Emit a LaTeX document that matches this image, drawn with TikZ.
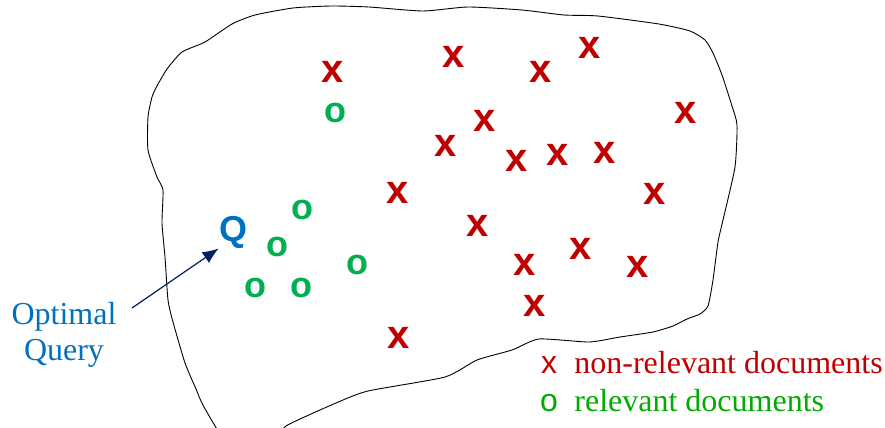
\documentclass[tikz,border=0pt]{standalone}
\usepackage{fontspec}
\setmainfont{Liberation Serif}
\setsansfont{Liberation Sans}
\usetikzlibrary{arrows.meta}
\definecolor{xred}{RGB}{192,0,0}
\definecolor{ogreen}{RGB}{0,176,80}
\definecolor{lgreen}{RGB}{0,172,0}
\definecolor{qblue}{RGB}{0,112,192}
\definecolor{qnavy}{RGB}{0,32,96}
\tikzset{
every node/.style={inner sep=0pt}, % glyphs sit right on their coordinates
nonrel/.style={text=xred, font=\sffamily\bfseries\fontsize{20}{20}\selectfont}, % the red x marks
rel/.style={text=ogreen, font=\sffamily\bfseries\fontsize{18}{18}\selectfont}, % the green o marks
query/.style={text=qblue, font=\sffamily\bfseries\fontsize{18}{18}\selectfont},
caption/.style={text=qblue, align=center, font=\fontsize{16}{18}\selectfont},
keymark/.style={font=\sffamily\fontsize{16}{16}\selectfont, anchor=base}, % marks in the key
keytext/.style={font=\fontsize{16}{16}\selectfont, anchor=base west},
blob/.style={draw=black, line width=0.45pt},
pointer/.style={-{Latex[length=8pt, width=6.5pt]}, draw=qnavy, fill=qnavy, line width=0.6pt},
}
\begin{document}
\begin{tikzpicture}[x=0.5pt, y=-0.5pt]
\useasboundingbox (0,0) rectangle (885,428);

% the document space
\begin{scope}
\clip (0,0) rectangle (885,428);
\draw[blob] plot[smooth cycle, tension=0.35] coordinates {
  (157,86) (167,69) (182,52) (205,42) (232,24) (255,15) (293,8) (331,6)
  (369,7) (423,11) (468,7) (522,10) (564,15) (598,16) (659,24) (690,31)
  (705,40) (713,53) (722,75) (732,106) (737,125) (735,167) (723,220)
  (718,242) (713,280) (708,306) (700,314) (687,319) (673,326) (653,332)
  (620,337) (589,342) (539,339) (512,350) (477,360) (445,377) (368,391)
  (336,403) (286,426) (276,442) (228,442) (204,407) (196,389) (185,363)
  (173,322) (168,300) (165,257) (162,223) (163,190) (157,177) (148,150)
  (148,117) (152,97)};
\end{scope}

% non-relevant documents
\node[nonrel] (x1) at (333,72) {x};
\node[nonrel] (x2) at (454,57) {x};
\node[nonrel] (x3) at (541,72) {x};
\node[nonrel] (x4) at (590,48) {x};
\node[nonrel] (x5) at (686,113) {x};
\node[nonrel] (x6) at (485,121) {x};
\node[nonrel] (x7) at (446,146) {x};
\node[nonrel] (x8) at (517,161) {x};
\node[nonrel] (x9) at (558,155) {x};
\node[nonrel] (x10) at (605,153) {x};
\node[nonrel] (x11) at (655,194) {x};
\node[nonrel] (x12) at (398,193) {x};
\node[nonrel] (x13) at (478,226) {x};
\node[nonrel] (x14) at (581,249) {x};
\node[nonrel] (x15) at (525,265) {x};
\node[nonrel] (x16) at (638,267) {x};
\node[nonrel] (x17) at (535,306) {x};
\node[nonrel] (x18) at (399,338) {x};

% relevant documents
\node[rel] (o1) at (335,113) {o};
\node[rel] (o2) at (302,210) {o};
\node[rel] (o3) at (277,247) {o};
\node[rel] (o4) at (357,265) {o};
\node[rel] (o5) at (255,288) {o};
\node[rel] (o6) at (301,288) {o};

% the query
\node[query] (Q) at (233,232) {Q};
\node[caption] (opt) at (64,335) {Optimal\\Query};
\coordinate (qfrom) at (132,308);
\draw[pointer] (qfrom) -- (Q.south west);

% key
\node[keymark, text=xred] (kx) at (549,373) {x};
\node[keytext, text=xred] (kxt) at (574,373) {non-relevant documents};
\node[keymark, text=lgreen] (ko) at (549,411) {o};
\node[keytext, text=lgreen] (kot) at (574,411) {relevant documents};
\end{tikzpicture}
\end{document}
